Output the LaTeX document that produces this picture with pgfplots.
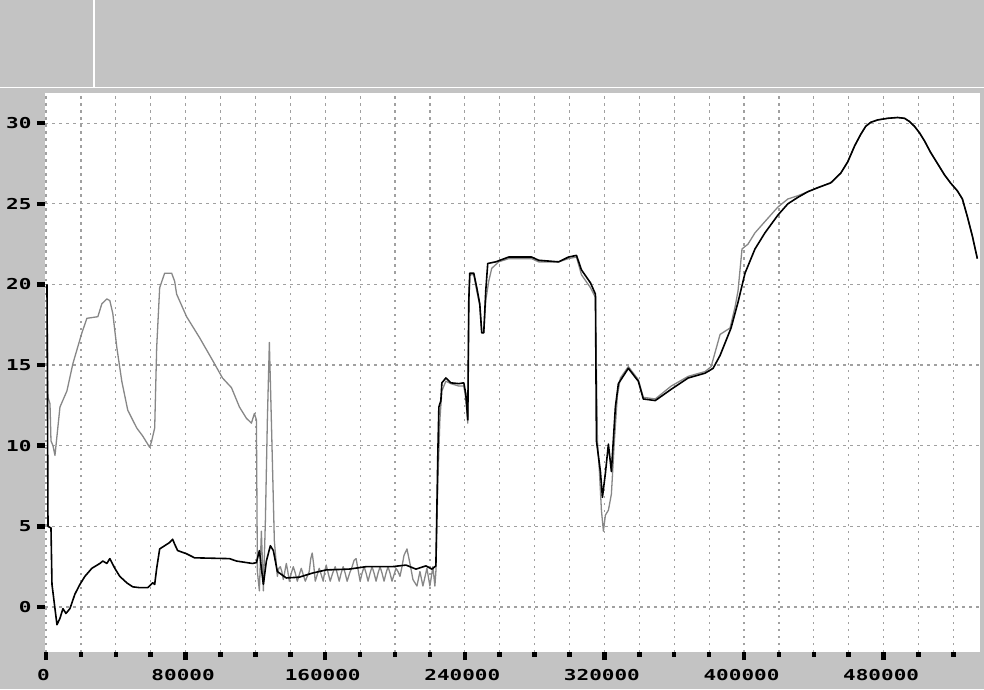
\documentclass[border=0pt]{standalone}
\usepackage{fontspec}
\usepackage{pgfplots}
\pgfplotsset{compat=1.18}
\newfontfamily\tickfont[FakeStretch=1.4]{DejaVu Sans Mono}
\definecolor{bg}{RGB}{195,195,195}
\definecolor{gridc}{RGB}{160,160,160}
\definecolor{sertwo}{RGB}{135,135,135}
\begin{document}
\begin{tikzpicture}[x=1pt,y=1pt]
\useasboundingbox (0,0) rectangle (984,689);
\fill[bg] (0,0) rectangle (984,689);
\draw[white, line width=1.5pt] (0,601.5) -- (984,601.5);
\draw[white, line width=1.5pt] (94,601.5) -- (94,689);
\begin{axis}[
  at={(45pt,37pt)}, anchor=south west,
  scale only axis, width=935pt, height=559pt,
  xmin=-573, xmax=535240, ymin=-2.79, ymax=31.87,
  axis background/.style={fill=white},
  axis line style={draw=none},
  scaled x ticks=false, scaled y ticks=false,
  xtick={0,80000,160000,240000,320000,400000,480000},
  xticklabels={0,80000,160000,240000,320000,400000,480000},
  minor xtick={20000,40000,60000,100000,120000,140000,180000,200000,220000,260000,280000,300000,340000,360000,380000,420000,440000,460000,500000,520000},
  ytick={0,5,10,15,20,25,30},
  yticklabels={0,5,10,15,20,25,30},
  xtick pos=lower, ytick pos=left,
  tick align=outside,
  major tick length=8pt, minor tick length=4.5pt,
  tick style={line width=4.5pt, black},
  xmajorgrids, xminorgrids, ymajorgrids,
  major grid style={gridc, line width=1.2pt, dash pattern=on 2.5pt off 4.5pt},
  minor grid style={gridc, line width=1.2pt, dash pattern=on 2.5pt off 4.5pt},
  tick label style={font=\tickfont\bfseries\fontsize{15}{16}\selectfont},
  xticklabel style={xshift=-2.5pt, yshift=-6pt},
  yticklabel style={xshift=-2pt},
  no markers,
]
\addplot[sertwo, line width=1.3pt, line join=round] coordinates {
(571,20.0) (1143,13.0) (2286,12.6) (2857,10.3) (4000,10.0) (5143,9.4) (8000,12.4) (12000,13.4)
(15429,15.1) (20571,17.0) (23429,17.9) (29714,18.0) (32000,18.8) (34857,19.1) (36571,19.0)
(38286,18.2) (40571,16.1) (43429,14.0) (46857,12.2) (52000,11.1) (55429,10.6) (59429,9.9)
(60571,10.3) (62286,11.1) (63429,16.1) (65143,19.8) (68000,20.7) (72000,20.7) (73714,20.2)
(74857,19.4) (80571,18.0) (88000,16.7) (95429,15.3) (101143,14.2) (106286,13.6) (110857,12.4)
(114857,11.7) (117714,11.4) (119429,12.0) (120571,11.6) (121143,2.2) (122286,1.0) (123429,4.7)
(124571,1.0) (125714,5.3) (126857,11.6) (128000,16.4) (129143,11.6) (130857,4.1) (132571,1.9)
(133429,2.4) (134286,2.5) (135143,2.2) (136000,1.7) (136857,2.2) (137714,2.7) (138571,2.2)
(139429,1.6) (140571,2.1) (141714,2.5) (142857,2.1) (144000,1.6) (145143,2.0) (146286,2.4)
(147429,2.0) (148571,1.6) (149714,1.9) (150857,2.2) (151714,3.0) (152571,3.35) (153429,2.6)
(154286,1.6) (155429,2.0) (156571,2.4) (157714,2.0) (158857,1.6) (159714,2.2) (160571,2.6)
(161714,2.1) (162857,1.6) (164286,2.1) (165714,2.5) (166857,2.1) (168000,1.6) (169143,2.1)
(170286,2.5) (171429,2.1) (172571,1.6) (174000,2.1) (175429,2.5) (176571,2.9) (177714,3.0)
(178857,2.3) (180000,1.6) (181143,2.1) (182286,2.5) (183429,2.1) (184571,1.6) (185714,2.1)
(186857,2.5) (188000,2.1) (189143,1.6) (190286,2.1) (191429,2.5) (192571,2.1) (193714,1.6)
(194857,2.1) (196000,2.5) (197143,2.1) (198286,1.6) (199429,2.0) (200571,2.4) (201714,2.2)
(202857,1.9) (204000,2.5) (205143,3.2) (206857,3.6) (208571,2.7) (210286,1.7) (212571,1.3)
(214286,2.2) (216000,1.3) (218286,2.4) (220000,1.3) (221714,2.5) (222857,1.3) (223429,2.2)
(224571,7.8) (225714,11.6) (226857,13.4) (229143,14.0) (232000,13.85)
(236571,13.7) (239429,13.7) (240571,12.9) (241714,11.4) (242286,19.0) (242857,20.6) (245143,20.6)
(246857,19.6) (248571,18.7) (249714,17.0) (250857,17.0) (252000,19.0) (253714,20.2) (255429,21.0)
(259429,21.4) (265143,21.6) (278286,21.6) (282286,21.4) (293714,21.4) (299429,21.6) (304000,21.7)
(306857,20.6) (312000,19.8) (314857,19.2) (316000,10.3) (317143,8.4) (318286,6.0) (319429,4.7)
(320571,5.7) (322286,6.0) (324000,7.0) (325714,10.3) (327429,13.1) (329143,14.2) (333714,14.9)
(339429,14.1) (342286,13.0) (349143,12.9) (358286,13.7) (368000,14.3) (377714,14.6) (381143,14.9)
(386286,16.9) (392000,17.3) (394857,18.6) (396571,19.6) (398857,22.2) (402286,22.5) (406286,23.2)
(412000,23.9) (419429,24.8) (425143,25.3) (430857,25.5) (436571,25.75) (442286,26.0) (449714,26.3)
(455429,26.9) (459429,27.6) (463429,28.6) (466857,29.3) (469714,29.8) (472571,30.05) (476571,30.2)
(482286,30.3) (488000,30.35) (492000,30.3) (494857,30.1) (497714,29.8) (500571,29.4) (503429,28.9)
(506857,28.2) (510857,27.5) (514857,26.8) (518286,26.3) (522286,25.8) (525143,25.3) (528000,24.2)
(530857,23.0) (533714,21.6)
};
\addplot[black, line width=1.6pt, line join=round] coordinates {
(571,20.0) (1143,5.0) (2857,4.9) (3429,1.4) (6286,-1.1) (8000,-0.7) (9714,-0.1) (11429,-0.4)
(13714,-0.1) (16571,0.8) (19429,1.4) (22286,1.9) (26286,2.4) (30857,2.7) (32571,2.85) (34857,2.7)
(36571,3.0) (39429,2.4) (42286,1.9) (46286,1.5) (49714,1.25) (53714,1.2) (58286,1.2) (61143,1.5)
(62286,1.4) (63429,2.4) (65143,3.6) (68000,3.8) (70857,4.0) (72571,4.2) (73714,3.9) (75429,3.5)
(80571,3.3) (85143,3.05) (105143,3.0) (109143,2.85) (118286,2.7) (120571,2.75) (122286,3.5)
(123429,2.4) (124571,1.4) (126286,2.85) (128571,3.8) (130286,3.5) (132571,2.2) (137714,1.8)
(145143,1.85) (152571,2.1) (160571,2.3) (173714,2.35) (183429,2.5) (198286,2.5) (206286,2.6)
(212000,2.35) (217714,2.55) (221143,2.35) (223429,2.55) (224571,9.7) (225143,12.4) (226286,12.8)
(226857,13.9) (229143,14.2) (232000,13.9) (236571,13.85) (239429,13.9) (240571,13.2) (241714,11.6)
(242286,19.0) (242857,20.7) (245143,20.7) (246857,19.8) (248571,18.8) (249714,17.0) (250857,17.0)
(252000,19.6) (253143,21.3) (257714,21.4) (265143,21.7) (278286,21.7) (282286,21.5) (293714,21.4)
(299429,21.7) (304000,21.8) (306857,20.9) (312000,20.1) (314857,19.4) (315429,10.3) (317714,8.4)
(318857,6.8) (320571,8.3) (322286,10.1) (324000,8.4) (326286,12.4) (328000,13.85) (333714,14.8)
(339429,14.0) (342286,12.9) (349143,12.8) (358286,13.5) (368000,14.2) (377714,14.5) (382286,14.8)
(386286,15.6) (392571,17.3) (396571,18.9) (400571,20.7) (406286,22.2) (412000,23.2) (419429,24.3)
(425143,25.0) (430857,25.4) (436571,25.75) (442286,26.0) (449714,26.3)
(455429,26.9) (459429,27.6) (463429,28.6) (466857,29.3) (469714,29.8) (472571,30.05) (476571,30.2)
(482286,30.3) (488000,30.35) (492000,30.3) (494857,30.1) (497714,29.8) (500571,29.4) (503429,28.9)
(506857,28.2) (510857,27.5) (514857,26.8) (518286,26.3) (522286,25.8) (525143,25.3) (528000,24.2)
(530857,23.0) (533714,21.6)
};
\end{axis}
\end{tikzpicture}
\end{document}
